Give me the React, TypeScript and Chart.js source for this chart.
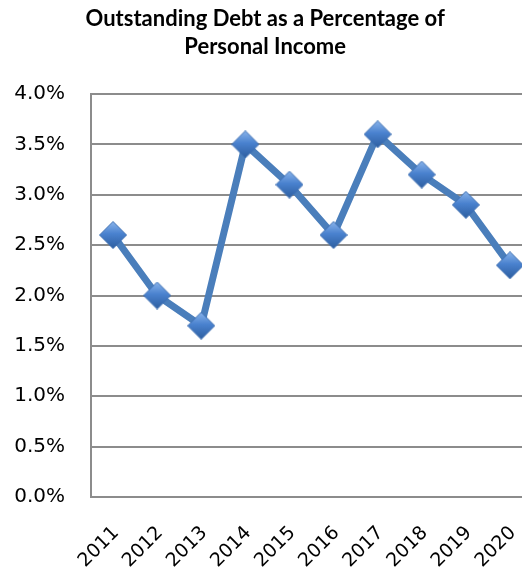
import React, { useEffect, useRef } from "react";
import { Chart, registerables } from "chart.js";

Chart.register(...registerables);

const years: string[] = ["2011", "2012", "2013", "2014", "2015", "2016", "2017", "2018", "2019", "2020"];
const debtPct: number[] = [0.026, 0.020, 0.017, 0.035, 0.031, 0.026, 0.036, 0.032, 0.029, 0.023];
const titleLines: string[] = ["Outstanding Debt as a Percentage of  ", "Personal Income  "];

function makeDiamond(size: number): HTMLCanvasElement {
  const c = document.createElement("canvas");
  c.width = size;
  c.height = size;
  const g = c.getContext("2d")!;
  const h = size / 2;
  const grad = g.createLinearGradient(0, 0, 0, size);
  grad.addColorStop(0, "#8cb6ec");
  grad.addColorStop(0.45, "#4a82cf");
  grad.addColorStop(1, "#2c5d9e");
  g.beginPath();
  g.moveTo(h, 0.5);
  g.lineTo(size - 0.5, h);
  g.lineTo(h, size - 0.5);
  g.lineTo(0.5, h);
  g.closePath();
  g.fillStyle = grad;
  g.fill();
  g.strokeStyle = "#3a6db0";
  g.lineWidth = 1;
  g.stroke();
  return c;
}

export default function App() {
  const ref = useRef<HTMLCanvasElement | null>(null);
  useEffect(() => {
    if (!ref.current) return;
    const diamond = makeDiamond(28);
    const chart = new Chart(ref.current, {
      type: "line",
      data: {
        labels: years,
        datasets: [
          {
            data: debtPct,
            borderColor: "#4a7ebb",
            borderWidth: 7,
            pointStyle: diamond as any,
            pointRadius: 14,
            tension: 0,
          },
        ],
      },
      options: {
        animation: false,
        responsive: false,
        layout: { padding: { left: 0, right: 12, top: 0, bottom: 0 } },
        plugins: {
          legend: { display: false },
          tooltip: { enabled: false },
          title: {
            display: true,
            text: titleLines,
            color: "#000",
            font: { family: "Lato", size: 22, weight: "bold", lineHeight: "28px" },
            padding: { top: 5, bottom: 33 },
          },
        },
        scales: {
          x: {
            offset: true,
            grid: { display: false, drawTicks: false },
            border: { display: true, color: "#8c8c8c", width: 2 },
            ticks: {
              color: "#000",
              font: { family: "DejaVu Sans", size: 19 },
              minRotation: 45,
              maxRotation: 45,
              padding: 25,
              labelOffset: 3,
            },
            afterFit: (scale: any) => {
              scale.paddingLeft = 0;
              scale.paddingRight = 0;
              scale.height = 76;
            },
          },
          y: {
            min: 0,
            max: 0.04,
            grid: { color: "#8c8c8c", lineWidth: 2, drawTicks: false },
            border: { display: true, color: "#8c8c8c", width: 2 },
            ticks: {
              stepSize: 0.005,
              color: "#000",
              font: { family: "DejaVu Sans", size: 20 },
              padding: 26,
              callback: (v: any) => (Number(v) * 100).toFixed(1) + "%",
            },
            afterFit: (scale: any) => {
              scale.width = 91;
            },
          },
        },
      },
    });
    return () => chart.destroy();
  }, []);
  return (
    <div style={{ position: "fixed", left: 0, top: 0, width: 522, height: 573, overflow: "hidden", background: "#fff" }}>
      <canvas ref={ref} width={553} height={573} style={{ display: "block" }} />
    </div>
  );
}
